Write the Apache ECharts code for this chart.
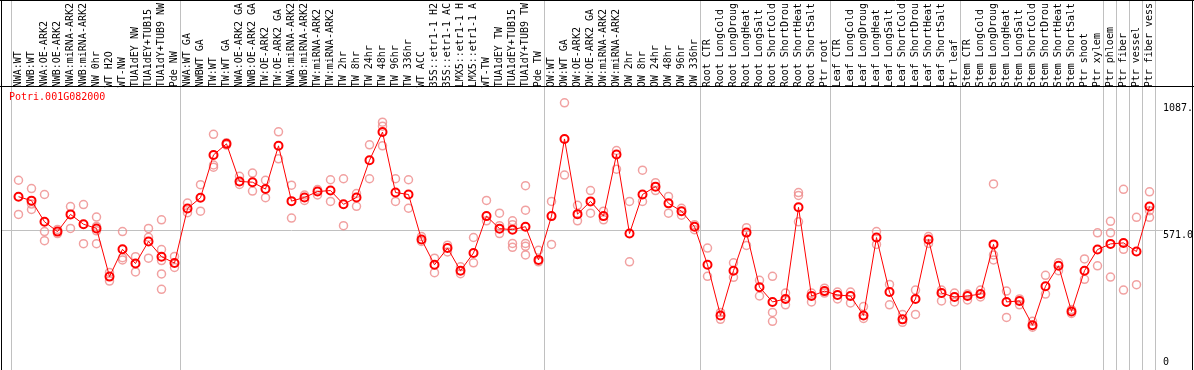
<!DOCTYPE html>
<html>
<head>
<meta charset="utf-8">
<script src="https://cdn.jsdelivr.net/npm/echarts@6/dist/echarts.min.js"></script>
<style>
html,body{margin:0;padding:0;background:#fff;}
#chart{width:1194px;height:370px;}
</style>
</head>
<body>
<div id="chart"></div>
<script>
const geneName = "Potri.001G082000";
const categories = [
"NWA:WT","NWB:WT","NWA:OE-ARK2","NWB:OE-ARK2","NWA:miRNA-ARK2","NWB:miRNA-ARK2","NW 0hr","WT H2O","WT-NW","TUA1dEY NW","TUA1dEY+TUB15","TUA1dY+TUB9 NW","Pde NW",
"NWA:WT GA","NWBWT GA","TW:WT","TW:WT GA","NWA:OE-ARK2 GA","NWB:OE-ARK2 GA","TW:OE-ARK2","TW:OE-ARK2 GA","NWA:miRNA-ARK2","NWB:miRNA-ARK2","TW:miRNA-ARK2","TW:miRNA-ARK2","TW 2hr","TW 8hr","TW 24hr","TW 48hr","TW 96hr","TW 336hr","WT ACC","35S::etr1-1 H2","35S::etr1-1 AC","LMX5::etr1-1 H","LMX5::etr1-1 A","WT-TW","TUA1dEY TW","TUA1dEY+TUB15","TUA1dY+TUB9 TW","Pde TW",
"OW:WT","OW:WT GA","OW:OE-ARK2","OW:OE-ARK2 GA","OW:miRNA-ARK2","OW:miRNA-ARK2","OW 2hr","OW 8hr","OW 24hr","OW 48hr","OW 96hr","OW 336hr",
"Root CTR","Root LongCold","Root LongDroug","Root LongHeat","Root LongSalt","Root ShortCold","Root ShortDrou","Root ShortHeat","Root ShortSalt","Ptr root",
"Leaf CTR","Leaf LongCold","Leaf LongDroug","Leaf LongHeat","Leaf LongSalt","Leaf ShortCold","Leaf ShortDrou","Leaf ShortHeat","Leaf ShortSalt","Ptr leaf",
"Stem CTR","Stem LongCold","Stem LongDroug","Stem LongHeat","Stem LongSalt","Stem ShortCold","Stem ShortDrou","Stem ShortHeat","Stem ShortSalt","Ptr shoot",
"Ptr xylem","Ptr phloem","Ptr fiber","Ptr vessel","Ptr fiber vess"
];
const means = [
705,689,603,563,633,593,576,380,491,433,523,461,435,
657,701,875,920,767,764,736,912,687,702,726,730,674,702,853,968,722,714,531,428,496,404,476,626,575,571,583,448,
626,940,634,686,626,877,555,714,746,678,646,583,
428,222,404,559,337,277,289,662,301,321,
305,301,222,539,317,206,289,531,313,297,
301,309,511,277,281,182,341,424,238,404,
490,513,517,482,665
];
const replicates = [
[772,633],[738,675,653],[714,563,526],[572,555],[665,576],[673,514],[622,584,566,514],[397,362],[563,457,448],[461,399],[576,540,455],[611,490,445,391,328],[462,417],
[679,640],[754,646],[959,834,825],[925,915],[788,755],[801,728],[772,701],[969,859],[752,618],[712,690],[734,712],[774,686],[778,587],[718,666],[916,778],[1008,992,912],[778,686],[774,658],[543,523],[455,396],[508,480],[420,392],[539,436],[690,607],[638,587,555],[607,591,515,499],[750,650,515,503,468],[487,440],
[686,511],[1087,793],[670,607],[730,638],[646,611],[893,817],[686,440],[813,686],[762,730],[706,638],[658,630],[591,571],
[496,381],[234,206],[436,377],[579,507],[365,301],[381,234,198],[313,265],[722,710,603],[313,277],[333,313],
[317,289],[317,273],[258,210],[563,511],[348,265],[226,194],[325,226],[543,515],[325,281],[313,277],
[309,285],[325,297],[757,468,448],[321,214],[289,265],[198,174],[385,309],[436,404],[246,230],[452,369],
[558,424],[605,558,378],[735,491,325],[621,347],[725,648,621]
];
// category boundaries (index before which a separator is drawn)
const separators = [0,13,41,53,63,73,84,85,86,87,88];
const refValue = 571;
const maxValue = 1087;
const yLabels = [{v:1087, t:"1087."},{v:571, t:"571.0"},{v:0, t:"0"}];

const font = "'DejaVu Sans Mono', 'Liberation Mono', monospace";
const repData = [];
replicates.forEach((arr, i) => arr.forEach(v => repData.push([i, v])));

const chart = echarts.init(document.getElementById('chart'), null, {renderer:'canvas'});
const option = {
  animation: false,
  grid: {left: 12, right: 38, top: 86, bottom: 0, containLabel: false},
  xAxis: [
    {type:'category', data: categories, position:'top', boundaryGap:true,
     axisLine:{show:false}, axisTick:{show:false}, splitLine:{show:false},
     axisLabel:{interval:0, rotate:90, margin:2, fontSize:10, fontFamily:font, color:'#000', hideOverlap:false}},
    {type:'value', min:0, max:categories.length, show:false}
  ],
  yAxis: {type:'value', min:0, max:1142, show:false},
  series: [
    {type:'scatter', name:'replicates', data: repData, symbol:'circle', symbolSize:8,
     itemStyle:{color:'rgba(0,0,0,0)', borderColor:'#ee8a8a', borderWidth:1.5}, z:3},
    {type:'line', name:'mean', data: means, symbol:'circle', symbolSize:8, showSymbol:true,
     lineStyle:{color:'#ff0000', width:1},
     itemStyle:{color:'rgba(0,0,0,0)', borderColor:'#ff0000', borderWidth:2}, z:5}
  ]
};
chart.setOption(option);

const graphics = [];
const W = 1194, H = 370;
separators.forEach(b => {
  const x = Math.round(chart.convertToPixel({xAxisIndex:1}, b)) - 0.5;
  graphics.push({type:'line', shape:{x1:x, y1:0, x2:x, y2:H}, style:{stroke:'#c0c0c0', lineWidth:1}, z:1, silent:true});
});
const yRef = Math.round(chart.convertToPixel({yAxisIndex:0}, refValue)) + 0.5;
graphics.push({type:'line', shape:{x1:1, y1:yRef, x2:1163, y2:yRef}, style:{stroke:'#c0c0c0', lineWidth:1}, z:1, silent:true});
graphics.push({type:'line', shape:{x1:1.5, y1:0, x2:1.5, y2:H}, style:{stroke:'#000', lineWidth:1}, z:2});
graphics.push({type:'line', shape:{x1:1192.5, y1:0, x2:1192.5, y2:H}, style:{stroke:'#000', lineWidth:1}, z:2});
graphics.push({type:'line', shape:{x1:0, y1:0.5, x2:W, y2:0.5}, style:{stroke:'#000', lineWidth:1}, z:2});
graphics.push({type:'line', shape:{x1:0, y1:86.5, x2:W, y2:86.5}, style:{stroke:'#000', lineWidth:1}, z:2});
yLabels.forEach(o => {
  const y = chart.convertToPixel({yAxisIndex:0}, o.v);
  const isZero = o.v === 0;
  graphics.push({type:'text', x:1163, y: isZero ? y - 3 : y + 1,
    style:{text:o.t, fill:'#000', font:'10px ' + font, textAlign:'left', textVerticalAlign: isZero ? 'bottom' : 'top'}, z:10});
});
graphics.push({type:'text', x:9, y:97, style:{text:geneName, fill:'#ff0000', font:'10px ' + font, textAlign:'left', textVerticalAlign:'middle'}, z:10});
chart.setOption({graphic: {elements: graphics}});
</script>
</body>
</html>
